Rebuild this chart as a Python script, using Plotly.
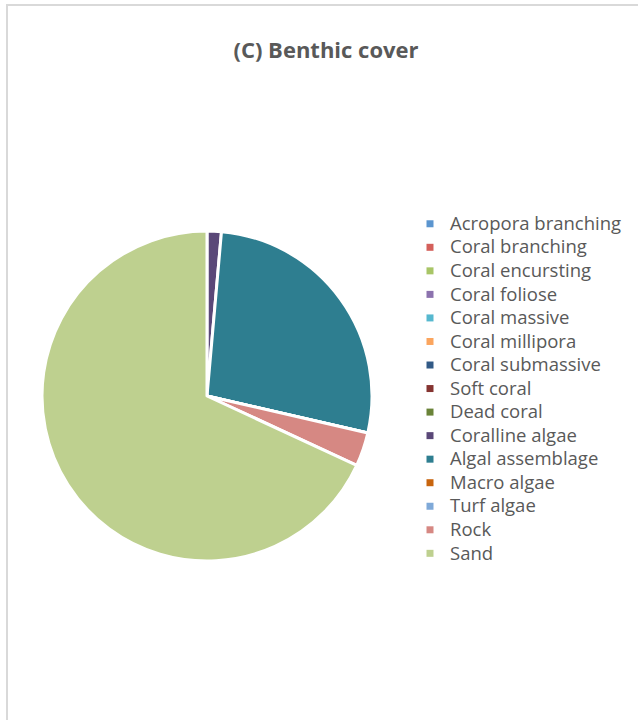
import plotly.graph_objects as go

categories = ["Acropora branching", "Coral branching", "Coral encursting", "Coral foliose",
              "Coral massive", "Coral millipora", "Coral submassive", "Soft coral",
              "Dead coral", "Coralline algae", "Algal assemblage", "Macro algae",
              "Turf algae", "Rock", "Sand"]
values = [0, 0, 0, 0, 0, 0, 0, 0, 0, 1.4, 27.2, 0, 0, 3.3, 68.1]
colors = ["#5B95CF", "#D4605B", "#A8C566", "#8C72AE", "#56B8CF", "#FBA55E",
          "#325A86", "#853431", "#6A8338", "#5A4878", "#2E7E90", "#C8650E",
          "#7FA9D8", "#D68883", "#BED08F"]
title_text = "(C) Benthic cover"

W, H = 638, 720
cx, cy, r = 207, 396, 165

fig = go.Figure()
fig.add_trace(go.Pie(
    labels=categories, values=values, sort=False, direction="clockwise", rotation=0,
    marker=dict(colors=colors, line=dict(color="white", width=3)),
    textinfo="none", hoverinfo="label+percent", showlegend=False,
    domain=dict(x=[(cx - r) / W, (cx + r) / W], y=[1 - (cy + r) / H, 1 - (cy - r) / H]),
))
for c, col in zip(categories, colors):
    fig.add_trace(go.Scatter(x=[None], y=[None], mode="markers",
                             name='<span style="font-size:18.5px">' + c + '</span>',
                             marker=dict(symbol="square", size=7, color=col),
                             showlegend=True, hoverinfo="skip"))

fig.update_layout(
    width=W, height=H, margin=dict(l=0, r=0, t=0, b=0),
    paper_bgcolor="white", plot_bgcolor="white",
    xaxis=dict(visible=False), yaxis=dict(visible=False),
    title=dict(text="<b>" + title_text + "</b>", x=326 / W, xanchor="center",
               y=1 - 50 / H, yanchor="middle",
               font=dict(family="Open Sans", size=22, color="#595959")),
    legend=dict(x=410 / W, xanchor="left", y=1 - 207 / H, yanchor="top",
                font=dict(family="Open Sans", size=15.8, color="#595959"),
                itemwidth=30, bgcolor="rgba(0,0,0,0)", tracegroupgap=0),
    shapes=[dict(type="rect", xref="paper", yref="paper",
                 x0=7 / W, x1=1.05, y0=-0.05, y1=1 - 5 / H,
                 line=dict(color="#D9D9D9", width=2), fillcolor="rgba(0,0,0,0)",
                 layer="below")],
)
fig.write_html("out.html")
